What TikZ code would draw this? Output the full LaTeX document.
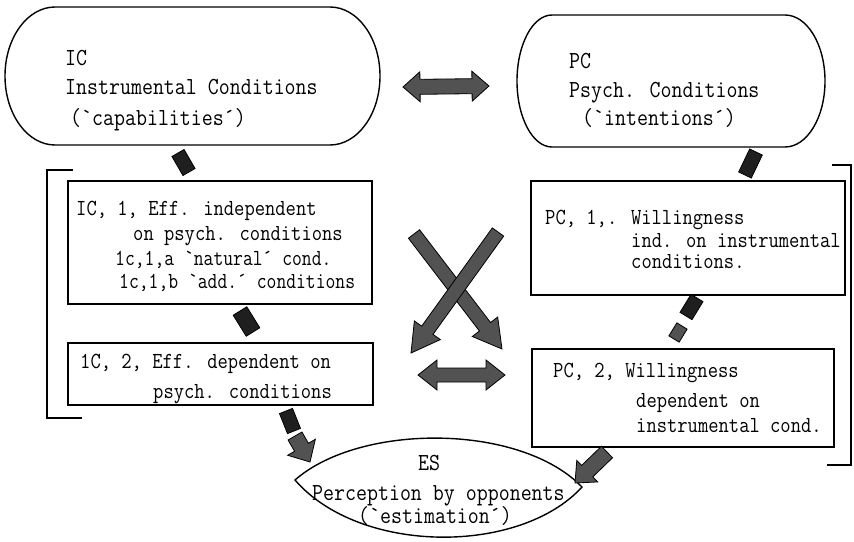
\documentclass[tikz,border=0pt]{standalone}
\usepackage{graphicx}
\usetikzlibrary{calc}
\definecolor{arrgray}{gray}{0.32}
\definecolor{stubblack}{gray}{0.12}
\newcommand\cnd[2][0.87]{\scalebox{#1}[1]{#2}}
% block arrow: [fill] A B shaft-halfwidth head-halfwidth head-length
\newcommand\fatarrow[6][arrgray]{%
  \coordinate (fa-c) at ($(#3)!#6!(#2)$);
  \filldraw[fatline, fill=#1] ($(#2)!#4!90:(#3)$) -- ($(fa-c)!#4!90:(#3)$) -- ($(fa-c)!#5!90:(#3)$) -- (#3) -- ($(fa-c)!#5!-90:(#3)$) -- ($(fa-c)!#4!-90:(#3)$) -- ($(#2)!#4!-90:(#3)$) -- cycle;}
% double block arrow: A B shaft-halfwidth head-halfwidth head-length
\newcommand\fatdarrow[5]{%
  \coordinate (fd-a) at ($(#1)!#5!(#2)$);
  \coordinate (fd-b) at ($(#2)!#5!(#1)$);
  \filldraw[fatline, fill=arrgray] (#1) -- ($(fd-a)!#4!90:(#2)$) -- ($(fd-a)!#3!90:(#2)$) -- ($(fd-b)!#3!90:(#2)$) -- ($(fd-b)!#4!90:(#2)$) -- (#2) -- ($(fd-b)!#4!-90:(#2)$) -- ($(fd-b)!#3!-90:(#2)$) -- ($(fd-a)!#3!-90:(#2)$) -- ($(fd-a)!#4!-90:(#2)$) -- cycle;}
% stub: [fill] A B halfwidth
\newcommand\fatstub[4][stubblack]{%
  \filldraw[fatline, fill=#1] ($(#2)!#4!90:(#3)$) -- ($(#3)!#4!-90:(#2)$) -- ($(#3)!#4!90:(#2)$) -- ($(#2)!#4!-90:(#3)$) -- cycle;}
\tikzset{
  fatline/.style={draw=black, line width=0.8pt, line join=miter},
  big/.style={anchor=base west, inner sep=0pt, font=\ttfamily\fontsize{24.5}{26}\selectfont},
  sml/.style={anchor=base west, inner sep=0pt, font=\ttfamily\fontsize{23}{25}\selectfont},
  box/.style={draw, line width=1.3pt, rectangle, inner sep=0pt},
  outl/.style={draw, line width=1.4pt},
}
\begin{document}
\begin{tikzpicture}[x=1pt, y=-1pt]
\useasboundingbox (0,0) rectangle (854,541);
\fill[white] (0,0) rectangle (854,541);

% IC stadium
\draw[outl] (55,7) -- (330,7) .. controls (357.6,7) and (380,37.9) .. (380,76) .. controls (380,114.1) and (357.6,145) .. (330,145) -- (55,145) .. controls (27.4,145) and (5,114.1) .. (5,76) .. controls (5,37.9) and (27.4,7) .. (55,7) -- cycle;
\node[big] (ict1) at (65,65) {\cnd{IC}};
\node[big] (ict2) at (65,94) {\cnd{Instrumental Conditions}};
\node[big] (ict3) at (70,125) {\cnd{(`capabilities´)}};

% PC stadium
\draw[outl] (552,15) -- (785,15) .. controls (807.1,15) and (825,44.5) .. (825,81) .. controls (825,117.5) and (807.1,147) .. (785,147) -- (552,147) .. controls (532.7,147) and (517,117.5) .. (517,81) .. controls (517,44.5) and (532.7,15) .. (552,15) -- cycle;
\node[big] (pct1) at (569,68) {\cnd{PC}};
\node[big] (pct2) at (569,97) {\cnd{Psych. Conditions}};
\node[big] (pct3) at (582,125) {\cnd{(`intentions´)}};

% boxes
\node[box, minimum width=304pt, minimum height=123pt] (ic1) at (220,242.5) {};
\node[box, minimum width=305pt, minimum height=62pt] (ic2) at (220.5,374) {};
\node[box, minimum width=314pt, minimum height=114pt] (pc1) at (688,238) {};
\node[box, minimum width=302pt, minimum height=98pt] (pc2) at (683,398) {};

\node[sml] (ic1t1) at (76,215) {\cnd{IC, 1, Eff. independent}};
\node[sml] (ic1t2) at (133,240) {\cnd{on psych. conditions}};
\node[sml] (ic1t3) at (115,265) {\cnd[0.83]{1c,1,a `natural´ cond.}};
\node[sml] (ic1t4) at (119,288) {\cnd[0.83]{1c,1,b `add.´ conditions}};
\node[sml] (ic2t1) at (80,368) {\cnd{1C, 2, Eff. dependent on}};
\node[sml] (ic2t2) at (153,398) {\cnd{psych. conditions}};
\node[sml] (pc1t1) at (545,224) {\cnd{PC, 1,. Willingness}};
\node[sml] (pc1t2) at (631,247) {\cnd{ind. on instrumental}};
\node[sml] (pc1t3) at (631,268) {\cnd{conditions.}};
\node[sml] (pc2t1) at (553,377) {\cnd{PC, 2, Willingness}};
\node[sml] (pc2t2) at (636,407) {\cnd{dependent on}};
\node[sml] (pc2t3) at (636,432) {\cnd{instrumental cond.}};

% brackets
\draw[outl] (73,170) -- (47,170) -- (47,418) -- (82,418);
\draw[outl] (832,165) -- (851,165) -- (851,465) -- (827,465);

% ES lens
\draw[outl] (295,480) .. controls (360,423) and (520,423) .. (582,487) .. controls (520,555) and (360,555) .. (295,480) -- cycle;
\node[big] (est1) at (418,470) {\cnd{ES}};
\node[big] (est2) at (312,500) {\cnd{Perception by opponents}};
\node[big] (est3) at (358,523) {\cnd{(`estimation´)}};

% connector end points
\coordinate (dt-a) at (403,87);
\coordinate (dt-b) at (489,86);
\coordinate (db-a) at (418,375);
\coordinate (db-b) at (505,375);
\coordinate (x1-a) at (414,234);
\coordinate (x1-b) at (502,349);
\coordinate (x2-a) at (498,232);
\coordinate (x2-b) at (411,353);
\coordinate (s1-a) at (178,153);
\coordinate (s1-b) at (189,172);
\coordinate (s2-a) at (756,152);
\coordinate (s2-b) at (745,175);
\coordinate (s3-a) at (240,311);
\coordinate (s3-b) at (253,332);
\coordinate (s4-a) at (697,298);
\coordinate (s4-b) at (686,316);
\coordinate (s5-a) at (682,326);
\coordinate (s5-b) at (674,339);
\coordinate (s6-a) at (286,411);
\coordinate (s6-b) at (294,431);
\coordinate (e1-a) at (295,436);
\coordinate (e1-b) at (310,462);
\coordinate (e2-a) at (607,452);
\coordinate (e2-b) at (575,483);

% connectors
\fatdarrow{dt-a}{dt-b}{7.5pt}{15pt}{17pt}
\fatdarrow{db-a}{db-b}{7pt}{15pt}{19pt}
\fatarrow{x1-a}{x1-b}{7pt}{16pt}{28pt}
\fatarrow{x2-a}{x2-b}{7pt}{16pt}{28pt}
\fatstub{s1-a}{s1-b}{7pt}
\fatstub{s2-a}{s2-b}{7pt}
\fatstub{s3-a}{s3-b}{8pt}
\fatstub{s4-a}{s4-b}{7pt}
\fatstub[arrgray]{s5-a}{s5-b}{6pt}
\fatstub{s6-a}{s6-b}{7pt}
\fatarrow{e1-a}{e1-b}{8pt}{16pt}{17pt}
\fatarrow{e2-a}{e2-b}{8pt}{15pt}{17pt}
\end{tikzpicture}
\end{document}
